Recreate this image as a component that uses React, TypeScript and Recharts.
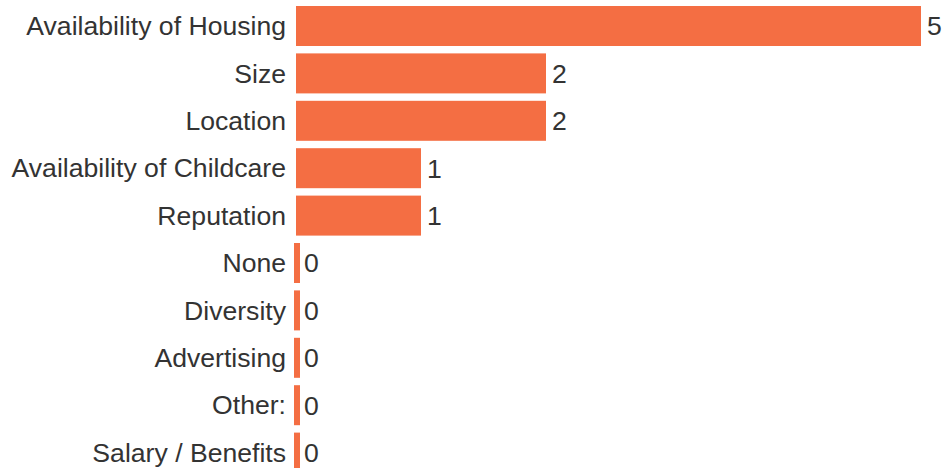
import React from "react";
import { BarChart, Bar, XAxis, YAxis, LabelList } from "recharts";

const categories = [
  "Availability of Housing",
  "Size",
  "Location",
  "Availability of Childcare",
  "Reputation",
  "None",
  "Diversity",
  "Advertising",
  "Other:",
  "Salary / Benefits",
];
const counts = [5, 2, 2, 1, 1, 0, 0, 0, 0, 0];

const BAR_COLOR = "#f46e43";
const TEXT_COLOR = "#333333";
const FONT_SIZE = 26.6;

// zero-count bars are drawn as a thin stub just left of the baseline
const BarShape = (props: any) => {
  const { x, y, width, height, value } = props;
  const isZero = !value;
  return (
    <rect
      x={isZero ? x - 2 : x}
      y={y}
      width={isZero ? 6 : width}
      height={height}
      fill={BAR_COLOR}
    />
  );
};

const ValueLabel = (props: any) => {
  const { x, y, width, height, value } = props;
  const gap = value ? 6 : 4;
  return (
    <text
      x={x + width + gap}
      y={y + height / 2}
      dy="0.355em"
      fill={TEXT_COLOR}
      fontSize={FONT_SIZE}
      textAnchor="start"
    >
      {value}
    </text>
  );
};

export default function App() {
  const data = categories.map((name, i) => ({ name, value: counts[i] }));

  return (
    <div
      style={{
        position: "absolute",
        top: 0,
        left: 0,
        fontFamily: '"Liberation Sans", Arial, sans-serif',
      }}
    >
      <BarChart
        width={944}
        height={476}
        layout="vertical"
        data={data}
        margin={{ top: 2, right: 23, bottom: 0, left: 0 }}
      >
        <XAxis type="number" domain={[0, 5]} hide />
        <YAxis
          type="category"
          dataKey="name"
          width={296}
          axisLine={false}
          tickLine={false}
          tickMargin={4}
          interval={0}
          tick={{ fill: TEXT_COLOR, fontSize: FONT_SIZE }}
        />
        <Bar
          dataKey="value"
          fill={BAR_COLOR}
          barSize={40}
          minPointSize={4}
          shape={BarShape}
          isAnimationActive={false}
        >
          <LabelList dataKey="value" content={ValueLabel} />
        </Bar>
      </BarChart>
    </div>
  );
}
